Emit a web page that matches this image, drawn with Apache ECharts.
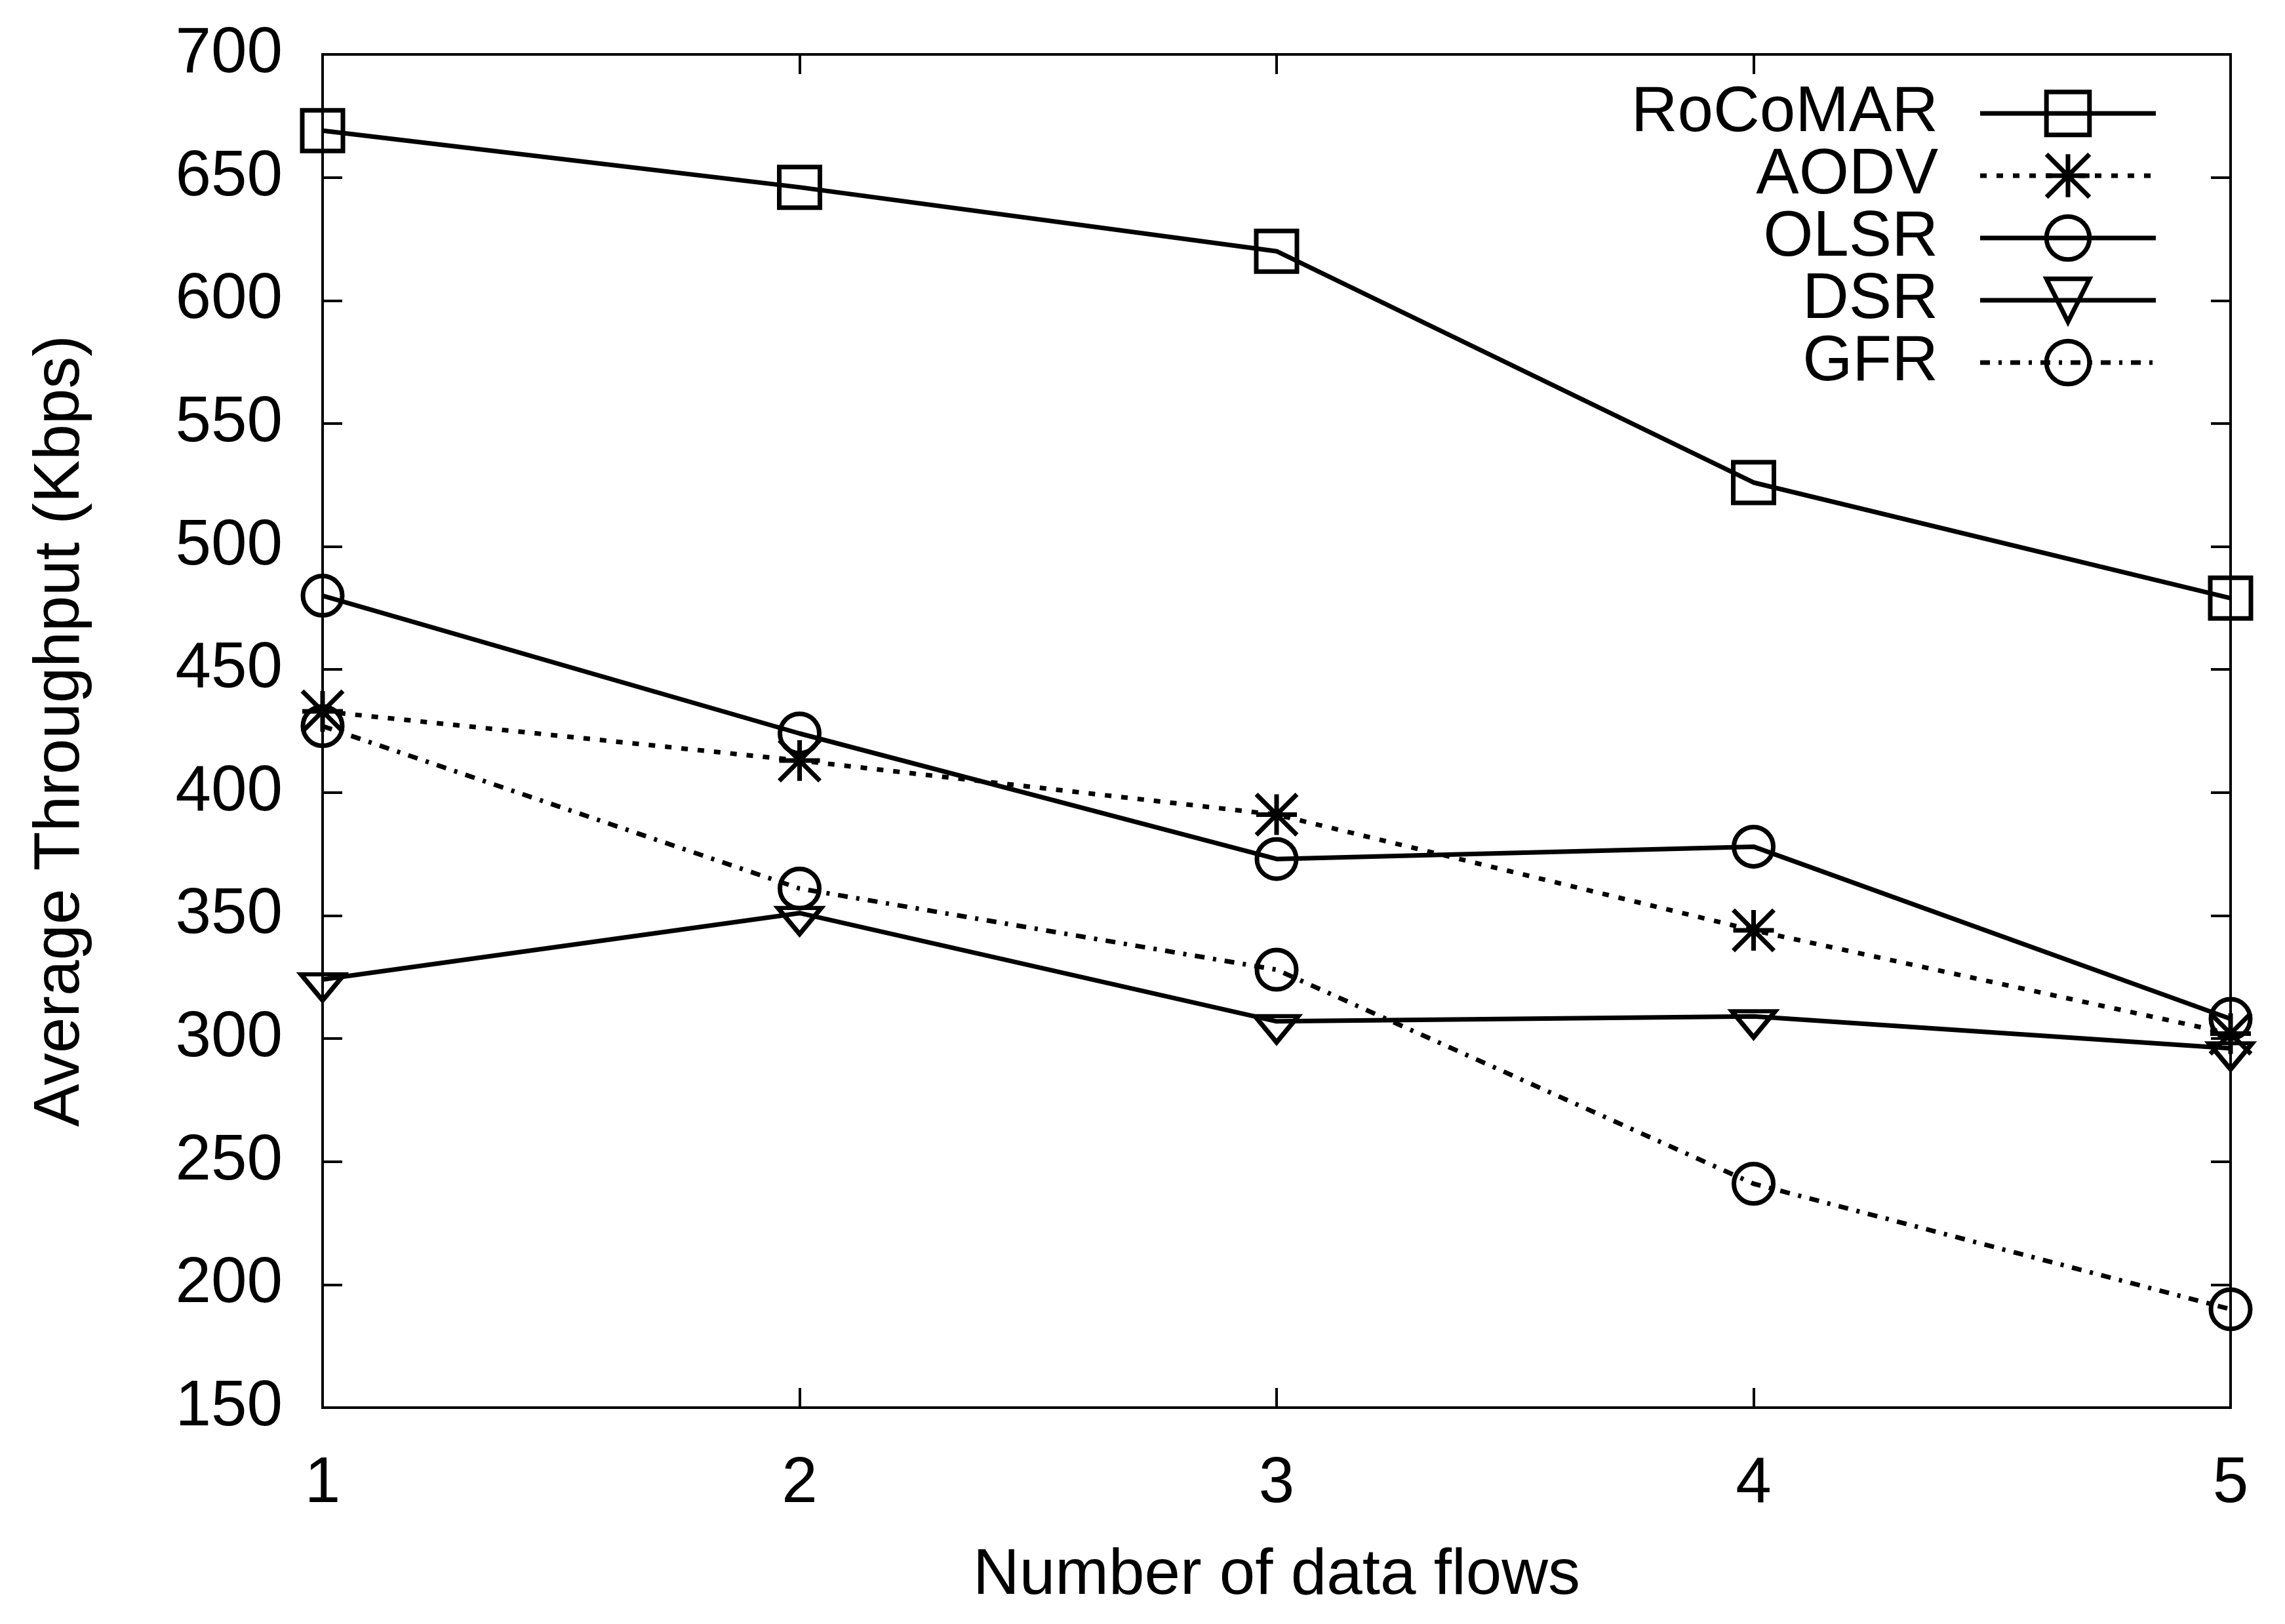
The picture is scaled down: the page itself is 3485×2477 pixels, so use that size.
<!DOCTYPE html>
<html>
<head>
<meta charset="utf-8">
<script src="https://cdn.jsdelivr.net/npm/echarts@6/dist/echarts.min.js"></script>
<style>
html,body{margin:0;padding:0;background:#fff;}
#chart{width:3485px;height:2477px;}
</style>
</head>
<body>
<div id="chart"></div>
<script>
// ---- data ----
var flows = [1, 2, 3, 4, 5];
var seriesNames = ['RoCoMAR', 'AODV', 'OLSR', 'DSR', 'GFR'];
var rocomar = [669, 646, 620, 526, 479];
var aodv    = [433, 413, 391, 344, 302];
var olsr    = [480, 424, 373, 378, 308];
var dsr     = [324, 351, 307, 309, 296];
var gfr     = [427, 361, 328, 241, 190];
var yTicks  = [150, 200, 250, 300, 350, 400, 450, 500, 550, 600, 650, 700];
var xTicks  = [1, 2, 3, 4, 5];

var FONT = 'Liberation Sans';
var FS = 98;
var LW = 7;
var SW = 7;
var CLEAR = 'rgba(0,0,0,0)';

function pairs(vals) { return flows.map(function (x, i) { return [x, vals[i]]; }); }

var ASTERISK = 'path://M50,0L50,100M0,50L100,50M0,0L100,100M100,0L0,100';
var TRIDOWN = 'path://M0,0L100,0L50,78Z';

function mk(name, vals, symbol, size, dash, offset) {
  return {
    name: name,
    type: 'line',
    data: pairs(vals),
    symbol: symbol,
    symbolSize: size,
    symbolKeepAspect: true,
    symbolOffset: offset || [0, 0],
    showAllSymbol: true,
    smooth: false,
    lineStyle: { color: '#000', width: LW, type: dash, cap: 'butt' },
    itemStyle: { color: CLEAR, borderColor: '#000', borderWidth: SW },
    emphasis: { disabled: true },
    z: 3
  };
}

var chart = echarts.init(document.getElementById('chart'), null, { renderer: 'canvas' });
chart.setOption({
  animation: false,
  backgroundColor: '#fff',
  textStyle: { fontFamily: FONT },
  grid: {
    left: 492, right: 83, top: 83, bottom: 330,
    show: true, borderColor: '#000', borderWidth: 4, backgroundColor: CLEAR
  },
  legend: {
    orient: 'vertical',
    left: 2436,
    top: 124,
    padding: 0,
    align: 'right',
    itemWidth: 268,
    itemHeight: 82,
    itemGap: -3,
    selectedMode: false,
    data: seriesNames,
    textStyle: {
      fontFamily: FONT, fontSize: FS, color: '#000',
      width: 520, align: 'right', lineHeight: 82,
      padding: [0, 59, 0, 0]
    },
    lineStyle: { width: LW, color: '#000' },
    itemStyle: { borderWidth: SW, borderColor: '#000' }
  },
  xAxis: [{
    type: 'value', min: 1, max: 5, interval: 1,
    name: 'Number of data flows', nameLocation: 'middle', nameGap: 208,
    nameTextStyle: { fontFamily: FONT, fontSize: FS, color: '#000', lineHeight: 98 },
    axisLine: { show: false },
    axisTick: { show: true, inside: true, length: 30, lineStyle: { color: '#000', width: 4 } },
    axisLabel: {
      fontFamily: FONT, fontSize: FS, color: '#000', margin: 68, lineHeight: 98,
      customValues: xTicks,
      formatter: function (v) { return String(v); }
    },
    splitLine: { show: false }
  }, {
    type: 'value', min: 1, max: 5, interval: 1, position: 'top',
    axisLine: { show: false },
    axisTick: { show: true, inside: true, length: 30, lineStyle: { color: '#000', width: 4 } },
    axisLabel: { show: false },
    splitLine: { show: false }
  }],
  yAxis: [{
    type: 'value', min: 150, max: 700, interval: 50,
    name: 'Average Throughput (Kbps)', nameLocation: 'middle', nameGap: 350, nameRotate: 90,
    nameTextStyle: { fontFamily: FONT, fontSize: FS, color: '#000', lineHeight: 98 },
    axisLine: { show: false },
    axisTick: { show: true, inside: true, length: 30, lineStyle: { color: '#000', width: 4 } },
    axisLabel: { fontFamily: FONT, fontSize: FS, color: '#000', margin: 61 },
    splitLine: { show: false }
  }, {
    type: 'value', min: 150, max: 700, interval: 50, position: 'right',
    axisLine: { show: false },
    axisTick: { show: true, inside: true, length: 30, lineStyle: { color: '#000', width: 4 } },
    axisLabel: { show: false },
    splitLine: { show: false }
  }],
  series: [
    mk('RoCoMAR', rocomar, 'rect', 62, 'solid'),
    mk('AODV', aodv, ASTERISK, 62, [10, 15]),
    mk('OLSR', olsr, 'circle', 60, 'solid'),
    mk('DSR', dsr, TRIDOWN, [66, 51], 'solid', [0, 12]),
    mk('GFR', gfr, 'circle', 60, [15, 13, 5, 13])
  ]
});
</script>
</body>
</html>
